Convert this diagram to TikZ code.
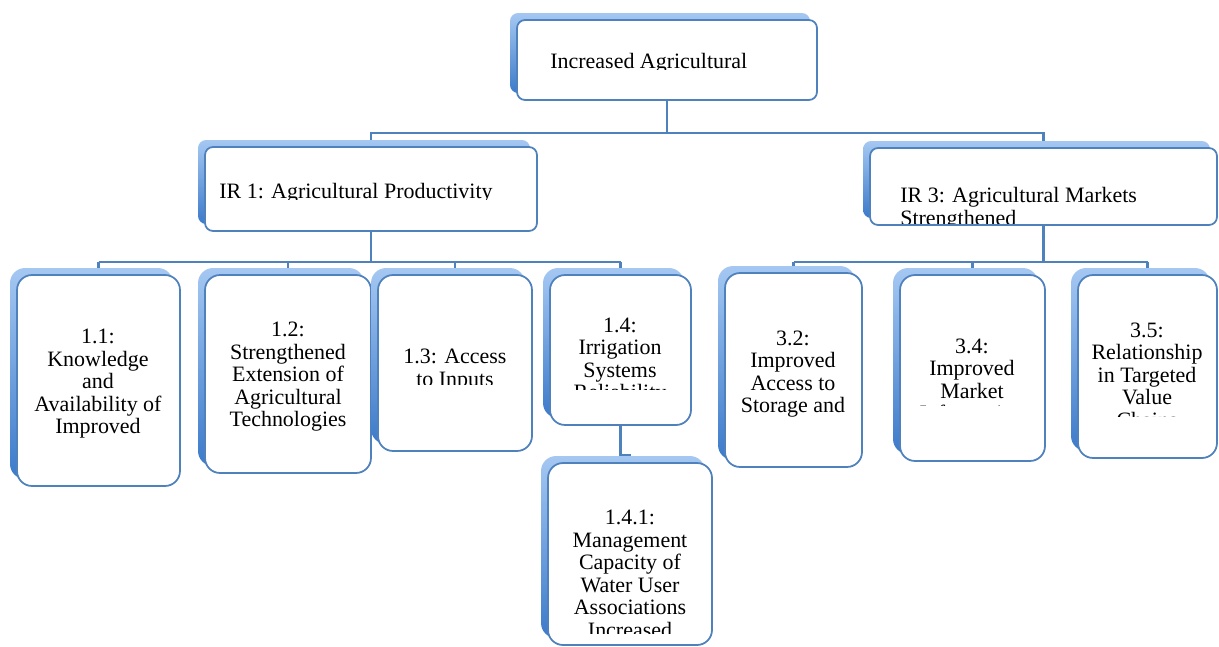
\documentclass[tikz,border=0pt]{standalone}
\usepackage{fontspec}
\setmainfont{Liberation Serif}
\usetikzlibrary{backgrounds}

\definecolor{boxline}{RGB}{79,129,189}
\definecolor{shadetop}{RGB}{165,200,242}
\definecolor{shadebot}{RGB}{60,122,202}

\tikzset{
  goal/.style={draw=boxline, line width=1pt, fill=white, rounded corners=0.16cm, inner sep=0pt,
    preaction={draw=none, top color=shadetop, bottom color=shadebot,
      transform canvas={shift={(-0.14cm,0.14cm)}}}},
  result/.style={goal, rounded corners=0.3cm},
  txt/.style={font=\fontsize{12.5}{12.8}\selectfont, align=center, inner sep=0pt},
  link/.style={draw=boxline, line width=1.4pt}
}

\begin{document}
\begin{tikzpicture}[x=0.02cm, y=-0.02cm]
    \useasboundingbox (0,0) rectangle (1219,646);

    % boxes
    \node[goal, minimum width=6cm, minimum height=1.6cm] (top) at (667,60) {};
    \node[goal, minimum width=6.64cm, minimum height=1.68cm] (ir1) at (371,189) {};
    \node[goal, minimum width=6.94cm, minimum height=1.54cm] (ir3) at (1043.5,186.5) {};
    \node[result, minimum width=3.26cm, minimum height=4.22cm] (b11) at (98.5,380.5) {};
    \node[result, minimum width=3.32cm, minimum height=3.96cm] (b12) at (288,374) {};
    \node[result, minimum width=3.08cm, minimum height=3.52cm] (b13) at (455,363) {};
    \node[result, minimum width=2.82cm, minimum height=3cm] (b14) at (620.5,350) {};
    \node[result, minimum width=3.28cm, minimum height=3.64cm] (b141) at (630,554) {};
    \node[result, minimum width=2.74cm, minimum height=3.88cm] (b32) at (793.5,370) {};
    \node[result, minimum width=2.9cm, minimum height=3.72cm] (b34) at (972.5,368) {};
    \node[result, minimum width=2.78cm, minimum height=3.66cm] (b35) at (1147.5,366.5) {};

    % texts
    \begin{scope}
        \clip (517,20) rectangle (817,69);
        \node[txt, anchor=base west] (ttop) at (550,68) {Increased Agricultural};
    \end{scope}
    \begin{scope}
        \clip (205,147) rectangle (537,199);
        \node[txt, anchor=base west] (tir1) at (219,198) {IR 1: Agricultural Productivity};
    \end{scope}
    \begin{scope}
        \clip (870,148) rectangle (1217,223);
        \node[txt, align=left, anchor=north west] (tir3) at (900,187) {IR 3: Agricultural Markets\\Strengthened};
    \end{scope}

    \node[txt] (t11) at (98,384) {1.1:\\Knowledge\\and\\Availability of\\Improved};
    \node[txt] (t12) at (288,377) {1.2:\\Strengthened\\Extension of\\Agricultural\\Technologies};
    \begin{scope}
        \clip (378,275) rectangle (532,384);
        \node[txt] (t13) at (455,370) {1.3: Access\\to Inputs};
    \end{scope}
    \begin{scope}
        \clip (550,275) rectangle (691,389);
        \node[txt] (t14) at (620,361) {1.4:\\Irrigation\\Systems\\Reliability};
    \end{scope}
    \begin{scope}
        \clip (548,463) rectangle (712,633);
        \node[txt] (t141) at (630,574) {1.4.1:\\Management\\Capacity of\\Water User\\Associations\\Increased};
    \end{scope}
    \node[txt] (t32) at (793,374) {3.2:\\Improved\\Access to\\Storage and};
    \begin{scope}
        \clip (900,275) rectangle (1045,405);
        \node[txt] (t34) at (972,380) {3.4:\\Improved\\Market\\Information};
    \end{scope}
    \begin{scope}
        \clip (1078,275) rectangle (1217,416);
        \node[txt] (t35) at (1147,375) {3.5:\\Relationship\\in Targeted\\Value\\Chains};
    \end{scope}

    % connectors
    \begin{scope}[on background layer]
        \coordinate (bus0) at (0,133);
        \coordinate (bus1) at (0,262);
        \coordinate (jog) at (0,455);
        \draw[link] (top.south) -- (top.south |- bus0);
        \draw[link] (ir1.north) -- (ir1.north |- bus0) -- (ir3.north |- bus0) -- (ir3.north);
        \draw[link] (ir1.south) -- (ir1.south |- bus1);
        \draw[link] (ir3.south) -- (ir3.south |- bus1);
        \draw[link] (b11.north |- bus1) -- (b14.north |- bus1);
        \draw[link] (b32.north |- bus1) -- (b35.north |- bus1);
        \foreach \k in {b11,b12,b13,b14,b32,b34,b35}
            \draw[link] (\k.north) -- (\k.north |- bus1);
        \draw[link] (b14.south) -- (b14.south |- jog) -| (b141.north);
    \end{scope}
\end{tikzpicture}
\end{document}
